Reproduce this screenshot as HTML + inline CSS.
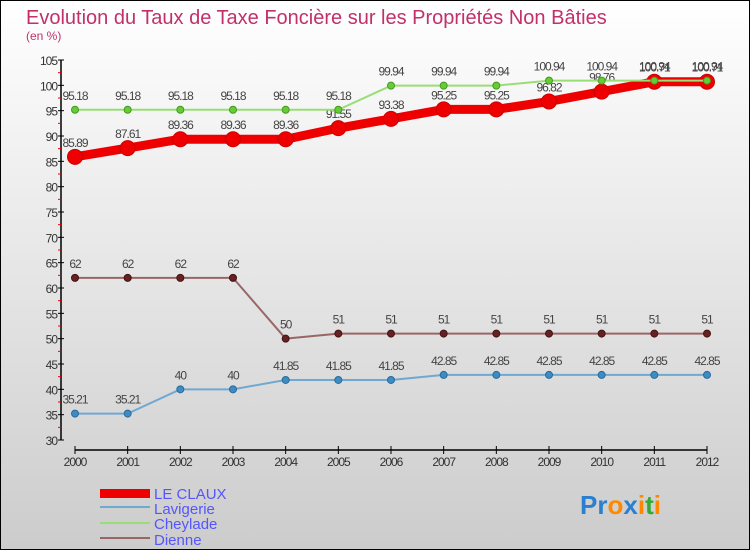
<!DOCTYPE html>
<html><head><meta charset="utf-8"><style>
body{margin:0;width:750px;height:550px;overflow:hidden;font-family:"Liberation Sans",sans-serif}
</style></head><body>
<svg width="750" height="550" xmlns="http://www.w3.org/2000/svg">
<defs><linearGradient id="bg" x1="0" y1="0" x2="0" y2="1"><stop offset="0" stop-color="#ffffff"/><stop offset="1" stop-color="#cccccc"/></linearGradient></defs>
<rect x="0.5" y="0.5" width="749" height="549" fill="url(#bg)" stroke="#000"/>
<text x="26" y="24" font-size="20" fill="#c2306a">Evolution du Taux de Taxe Foncière sur les Propriétés Non Bâties</text>
<text x="26" y="40" font-size="12" fill="#c2306a">(en %)</text>
<g id="axes"></g><g id="series"></g>
<g font-size="15" fill="#5555ff">
<rect x="100" y="489" width="50" height="9" fill="#ee0000"/>
<text x="154" y="499">LE CLAUX</text>
<rect x="100" y="506" width="50" height="2" fill="#6fa8d0"/>
<text x="154" y="514">Lavigerie</text>
<rect x="100" y="522" width="50" height="2" fill="#99dd77"/>
<text x="154" y="529">Cheylade</text>
<rect x="100" y="537" width="50" height="2" fill="#996666"/>
<text x="154" y="545">Dienne</text>
</g>
<text x="580" y="514" font-size="26" font-weight="bold"><tspan fill="#2a7fd0">Pr</tspan><tspan fill="#ff8800">o</tspan><tspan fill="#2a7fd0">x</tspan><tspan fill="#ff8800">i</tspan><tspan fill="#33aa33">t</tspan><tspan fill="#ff8800">i</tspan></text>
</svg>
<script>
const years=[2000,2001,2002,2003,2004,2005,2006,2007,2008,2009,2010,2011,2012];
const yTicks=[30,35,40,45,50,55,60,65,70,75,80,85,90,95,100,105];
const leClaux=[85.89,87.61,89.36,89.36,89.36,91.55,93.38,95.25,95.25,96.82,98.76,100.71,100.71];
const lavigerie=[35.21,35.21,40,40,41.85,41.85,41.85,42.85,42.85,42.85,42.85,42.85,42.85];
const cheylade=[95.18,95.18,95.18,95.18,95.18,95.18,99.94,99.94,99.94,100.94,100.94,100.94,100.94];
const dienne=[62,62,62,62,50,51,51,51,51,51,51,51,51];
const NS="http://www.w3.org/2000/svg";
const X=i=>75+i*(632/12);
const Y=v=>440-(v-30)*(380/75);
function mk(p,tag,at){const e=document.createElementNS(NS,tag);for(const k in at)e.setAttribute(k,at[k]);p.appendChild(e);return e;}
const ax=document.getElementById('axes');
let yl=mk(ax,'line',{x1:61,y1:60,x2:61,y2:440,stroke:'#000','stroke-width':1.5});

yTicks.forEach(t=>{const y=Y(t);mk(ax,'line',{x1:58,y1:y,x2:64,y2:y,stroke:'#000'});
 if(t<105)mk(ax,'line',{x1:58,y1:Y(t+2.5),x2:61,y2:Y(t+2.5),stroke:'#e00'});
 const tx=mk(ax,'text',{x:57,y:y+5,'text-anchor':'end','font-size':12,fill:'#333','letter-spacing':'-1'});tx.textContent=t;
 });
let xl=mk(ax,'line',{x1:75,y1:450,x2:707,y2:450,stroke:'#000','stroke-width':1.5});

years.forEach((yr,i)=>{const x=X(i);mk(ax,'line',{x1:x,y1:446,x2:x,y2:454,stroke:'#000'});
 const tx=mk(ax,'text',{x:x,y:466,'text-anchor':'middle','font-size':12,fill:'#333','letter-spacing':'-1'});tx.textContent=yr;
 });
const sg=document.getElementById('series');
function draw(name,vals,color,w,r,dot,stroke){
 const g=mk(sg,'g',{});
 const pl=mk(g,'polyline',{points:vals.map((v,i)=>X(i)+','+Y(v)).join(' '),fill:'none',stroke:color,'stroke-width':w,'stroke-linejoin':'round'});
 
 vals.forEach((v,i)=>{const c=mk(g,'circle',{cx:X(i),cy:Y(v),r:r,fill:dot,stroke:stroke,'stroke-width':1});
  
  const t=mk(g,'text',{x:X(i),y:Y(v)-10,'text-anchor':'middle','font-size':12,fill:'#444','letter-spacing':'-1'});t.textContent=String(v);
  });
}
draw('le-claux',leClaux,'#ee0000',9,7.5,'#ee0000','#cc0000');
draw('lavigerie',lavigerie,'#6fa8d0',2,3.5,'#3d8cc4','#2a6a99');
draw('cheylade',cheylade,'#99dd77',2,3.5,'#66cc33','#449922');
draw('dienne',dienne,'#996666',2,3.5,'#662222','#441111');
</script>
</body></html>
